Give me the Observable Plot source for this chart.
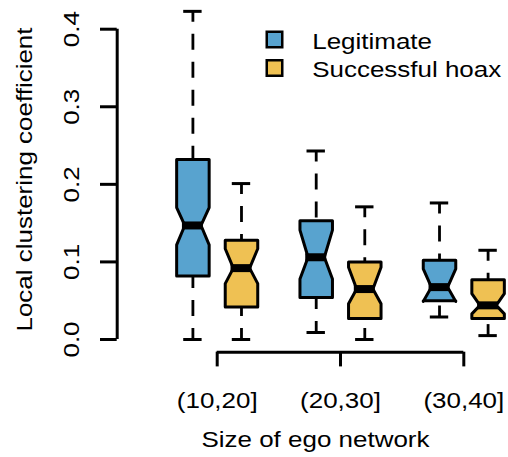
<!DOCTYPE html>
<html>
<head>
<meta charset="utf-8">
<script src="https://cdn.jsdelivr.net/npm/d3@7"></script>
<script src="https://cdn.jsdelivr.net/npm/@observablehq/plot@0.6"></script>
<style>
  html, body { margin: 0; padding: 0; background: white; }
</style>
</head>
<body>
<div id="chart"></div>
<script>
// ---------- data ----------
const groups = ["(10,20]", "(20,30]", "(30,40]"];
const series = ["Legitimate", "Successful hoax"];

const legitLow    = [0.000, 0.009, 0.029];
const legitQ1     = [0.082, 0.054, 0.050];
const legitConfLo = [0.122, 0.078, 0.049];
const legitMedian = [0.147, 0.106, 0.0675];
const legitConfHi = [0.170, 0.141, 0.091];
const legitQ3     = [0.232, 0.153, 0.102];
const legitHigh   = [0.423, 0.243, 0.176];

const hoaxLow     = [0.000, 0.000, 0.005];
const hoaxQ1      = [0.042, 0.027, 0.027];
const hoaxConfLo  = [0.072, 0.046, 0.033];
const hoaxMedian  = [0.092, 0.065, 0.044];
const hoaxConfHi  = [0.117, 0.093, 0.059];
const hoaxQ3      = [0.128, 0.100, 0.077];
const hoaxHigh    = [0.201, 0.171, 0.115];

const yTicks = [0, 0.1, 0.2, 0.3, 0.4];
const yTickLabels = ["0.0", "0.1", "0.2", "0.3", "0.4"];
const xLabel = "Size of ego network";
const yLabel = "Local clustering coefficient";

// ---------- styles / layout ----------
const colors = ["#58A3CF", "#EFC153"];
const DODGE = 0.197;   // offset of each box from group centre (x units)
const HW = 0.1318;     // box half width
const NOTCH = 0.5;     // notch fraction
const SH = 0.0746;     // staple half width
const MH = 0.085;      // median bar half width
const xDomain = [-0.811, 2.3625];
const yDomain = [-0.01639, 0.4];
const FS = 22;

const stats = [
  [legitLow, legitQ1, legitConfLo, legitMedian, legitConfHi, legitQ3, legitHigh],
  [hoaxLow, hoaxQ1, hoaxConfLo, hoaxMedian, hoaxConfHi, hoaxQ3, hoaxHigh]
];

const boxes = [];
series.forEach((s, si) => groups.forEach((g, gi) => {
  const [lo, q1, cl, md, ch, q3, hi] = stats[si].map(a => a[gi]);
  boxes.push({series: s, si, gi, id: si + "-" + gi, x: gi + (si ? 1 : -1) * DODGE, lo, q1, cl, md, ch, q3, hi});
}));

// notched box outline, same vertex order as R's bxp
const poly = [];
boxes.forEach(b => {
  const xs = [-1, 1, 1, NOTCH, 1, 1, -1, -1, -NOTCH, -1, -1];
  const ys = [b.q1, b.q1, b.cl, b.md, b.ch, b.q3, b.q3, b.ch, b.md, b.cl, b.q1];
  xs.forEach((f, k) => poly.push({id: b.id, si: b.si, x: b.x + HW * f, y: ys[k]}));
});

const marks = [];
// whiskers (dashed)
marks.push(Plot.ruleX(boxes, {x: "x", y1: "hi", y2: "q3", stroke: "black", strokeWidth: 2.8, strokeDasharray: "16,12", strokeDashoffset: 5}));
marks.push(Plot.ruleX(boxes, {x: "x", y1: "lo", y2: "q1", stroke: "black", strokeWidth: 2.8, strokeDasharray: "16,12", strokeDashoffset: 5}));
// staples
marks.push(Plot.ruleY(boxes, {y: "hi", x1: d => d.x - SH, x2: d => d.x + SH, stroke: "black", strokeWidth: 3}));
marks.push(Plot.ruleY(boxes, {y: "lo", x1: d => d.x - SH, x2: d => d.x + SH, stroke: "black", strokeWidth: 3}));
// boxes
series.forEach((s, si) => {
  marks.push(Plot.line(poly.filter(p => p.si === si), {x: "x", y: "y", z: "id", fill: colors[si], stroke: "black", strokeWidth: 3, strokeLinejoin: "round"}));
});
// medians
marks.push(Plot.ruleY(boxes, {y: "md", x1: d => d.x - MH, x2: d => d.x + MH, stroke: "black", strokeWidth: 8}));

// y axis
marks.push(Plot.ruleX([xDomain[0]], {x: d => d, y1: yTicks[0], y2: yTicks[yTicks.length - 1], stroke: "black", strokeWidth: 3}));
marks.push(Plot.axisY({ticks: yTicks, tickSize: 16.7, tickFormat: () => "", strokeWidth: 3, label: null}));
marks.push(Plot.text(yTicks, {y: d => d, text: (d, i) => yTickLabels[i], frameAnchor: "left", dx: -45.4, rotate: -90, textAnchor: "middle", lineAnchor: "middle", fontSize: FS, fill: "black"}));
marks.push(Plot.text([yLabel], {text: d => d, frameAnchor: "left", dx: -92, dy: -11.2, rotate: -90, textAnchor: "middle", lineAnchor: "middle", fontSize: FS, fill: "black"}));

// x axis
marks.push(Plot.ruleY([yDomain[0]], {y: d => d, x1: 0, x2: groups.length - 1, stroke: "black", strokeWidth: 3}));
marks.push(Plot.axisX({ticks: d3.range(groups.length), tickFormat: i => groups[i], tickSize: 14.7, tickPadding: 25.3, strokeWidth: 3, fontSize: FS, label: null}));
marks.push(Plot.text([xLabel], {text: d => d, frameAnchor: "bottom", dx: 2.6, dy: 88, textAnchor: "middle", lineAnchor: "middle", fontSize: FS, fill: "black"}));

// legend
series.forEach((s, i) => {
  marks.push(Plot.dot([s], {frameAnchor: "top-left", dx: 157.3, dy: 10.3 + i * 28.5, symbol: "square", r: 8.75, fill: colors[i], stroke: "black", strokeWidth: 2.5}));
  marks.push(Plot.text([s], {text: d => d, frameAnchor: "top-left", dx: 195, dy: 12.6 + i * 28.4, textAnchor: "start", lineAnchor: "middle", fontSize: FS, fill: "black"}));
});

const svg = Plot.plot({
  width: 508,
  height: 457,
  marginLeft: 116.7,
  marginRight: 0,
  marginTop: 28.7,
  marginBottom: 105.3,
  x: {type: "linear", domain: xDomain},
  y: {type: "linear", domain: yDomain},
  style: {fontFamily: "'Liberation Sans', Arial, Helvetica, sans-serif", fontSize: FS + "px", background: "white", color: "black", overflow: "visible"},
  marks
});
document.getElementById("chart").append(svg);

// widen glyphs to match the reference's wide Helvetica rendering
svg.querySelectorAll("text").forEach(t => {
  if (!t.textContent) return;
  const L = t.getComputedTextLength();
  if (L > 0) {
    t.setAttribute("textLength", (L * 1.18).toFixed(1));
    t.setAttribute("lengthAdjust", "spacingAndGlyphs");
  }
});
</script>
</body>
</html>
